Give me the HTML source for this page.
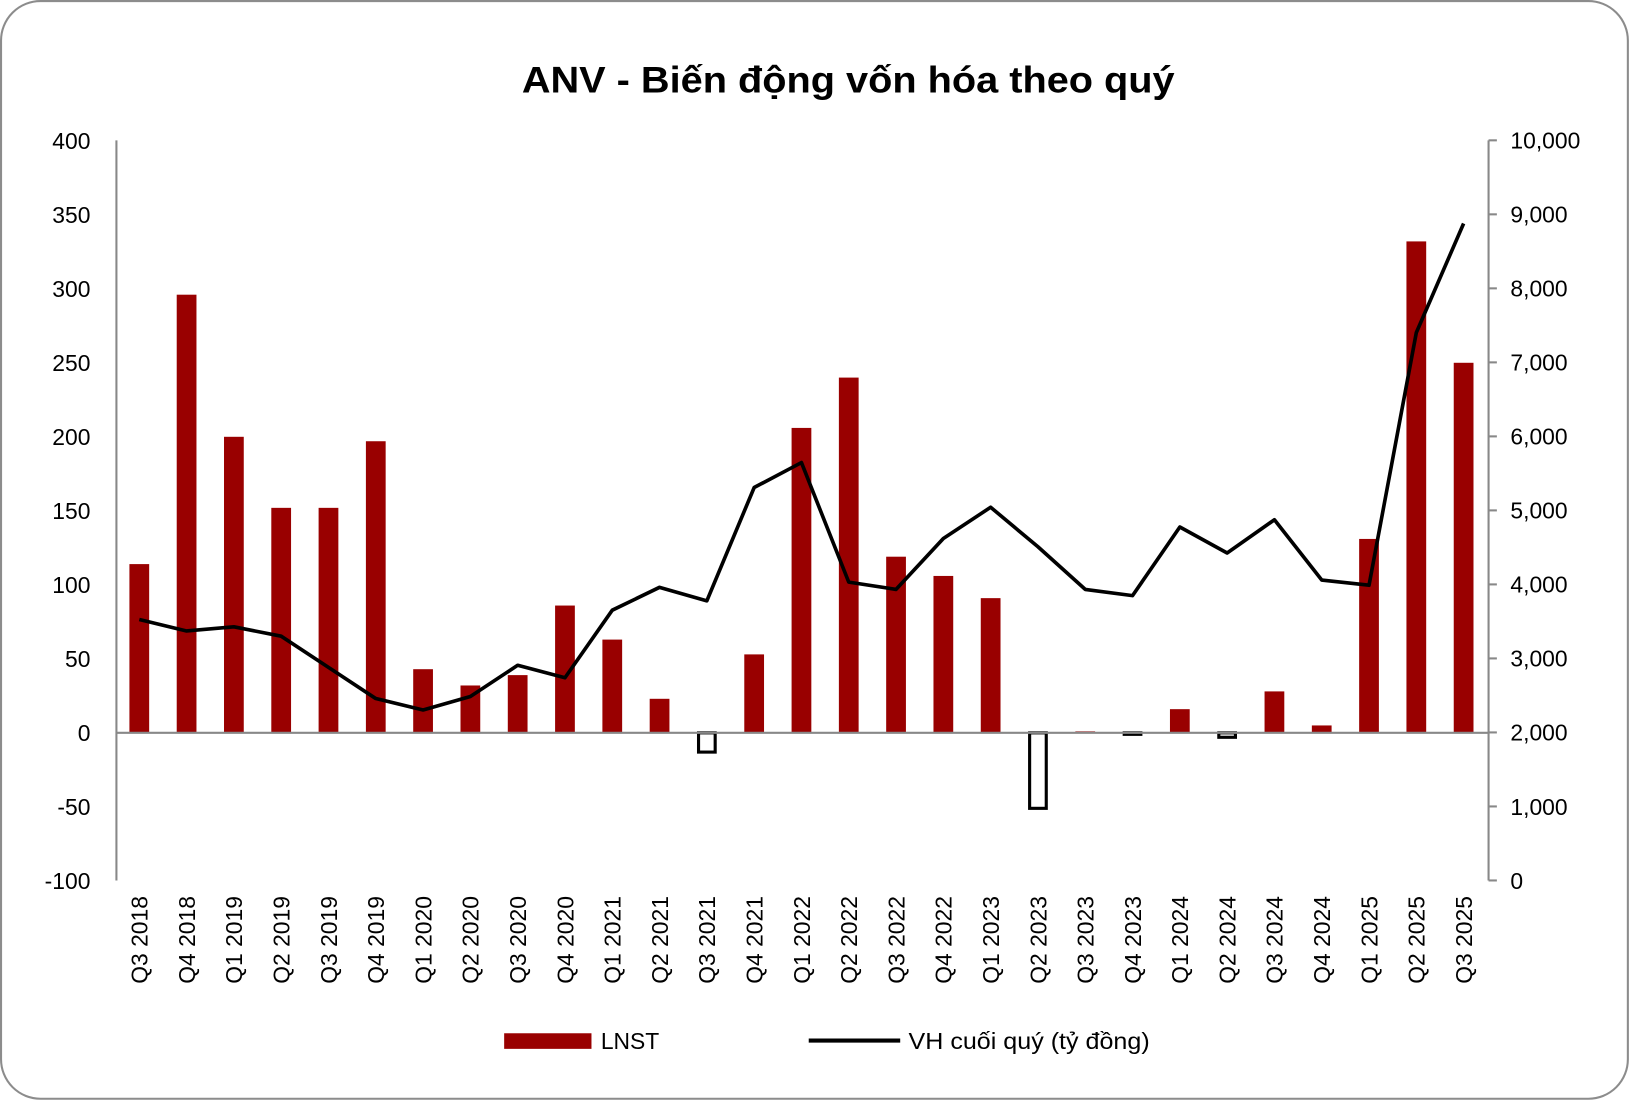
<!DOCTYPE html>
<html><head><meta charset="utf-8"><style>
html,body{margin:0;padding:0;background:#fff}
svg{display:block;font-family:"Liberation Sans",sans-serif}
</style></head><body>
<svg width="1630" height="1101" xmlns="http://www.w3.org/2000/svg">
<g id="c" transform="scale(1.0395)">
<rect x="1" y="1" width="1565" height="1056" rx="38" ry="38" fill="#fff" stroke="#8c8c8c" stroke-width="2"/>
<text x="816" y="89" text-anchor="middle" font-size="36" font-weight="bold" fill="#000" textLength="628" lengthAdjust="spacingAndGlyphs">ANV - Biến động vốn hóa theo quý</text>
</g>
</svg>
<script>
var s=document.getElementById('c'),NS='http://www.w3.org/2000/svg';
function el(t,a,txt){var e=document.createElementNS(NS,t);for(var k in a)e.setAttribute(k,a[k]);if(txt!=null)e.textContent=txt;s.appendChild(e);return e;}
var yTop=135,yBot=847,z=705,L=112,R=1432;
function yl(v){return z-v*(yBot-yTop)/500;}
function yr(v){return yBot-v*(yBot-yTop)/10000;}
for(var v=-100;v<=400;v+=50)el('text',{x:87,y:yl(v)+8,'text-anchor':'end','font-size':22,fill:'#000'},v);
for(var v=0;v<=10000;v+=1000){var y=yr(v);el('line',{x1:R,x2:R+8,y1:y,y2:y,stroke:'#888','stroke-width':2});
el('text',{x:1453,y:y+8,'font-size':22,fill:'#000'},v.toLocaleString('en-US'));}
el('line',{x1:L,x2:L,y1:yTop,y2:yBot,stroke:'#888','stroke-width':2});
el('line',{x1:R,x2:R,y1:yTop,y2:yBot,stroke:'#888','stroke-width':2});
var cats=['Q3 2018','Q4 2018'];
for(var yy=2019;yy<=2024;yy++)for(var q=1;q<=4;q++)cats.push('Q'+q+' '+yy);
cats.push('Q1 2025','Q2 2025','Q3 2025');
var bars=[114,296,200,152,152,197,43,32,39,86,63,23,-13,53,206,240,119,106,91,-51,1,-1,16,-3,28,5,131,332,250];
var line=[596,607,603,612,642,672,683,670,640,652,587,565,578,469,445,560,567,518,488,526,567,573,507,532,500,558,563,320,215];
var x0=134,dx=(1408-134)/28,bw=19;
for(var i=0;i<29;i++){var cx=x0+i*dx,v=bars[i];
 if(v>=0)el('rect',{x:cx-bw/2,y:yl(v),width:bw,height:z-yl(v),fill:'#990000'});
 else el('rect',{x:cx-bw/2+1.5,y:z,width:bw-3,height:yl(v)-z,fill:'#fff',stroke:'#000','stroke-width':3});
 el('text',{x:0,y:0,'font-size':22,fill:'#000','text-anchor':'end',transform:'translate('+(cx+8)+',862) rotate(-90)'},cats[i]);
}
el('line',{x1:L,x2:R,y1:z,y2:z,stroke:'#888','stroke-width':2});
var p='';for(var i=0;i<29;i++)p+=(i?'L':'M')+(x0+i*dx).toFixed(1)+' '+line[i];
el('path',{d:p,fill:'none',stroke:'#000','stroke-width':3.5,'stroke-linejoin':'round'});
el('rect',{x:485,y:994,width:84,height:15,fill:'#990000'});
el('text',{x:578,y:1009,'font-size':22,fill:'#000'},'LNST');
el('line',{x1:778,x2:866,y1:1001,y2:1001,stroke:'#000','stroke-width':4});
el('text',{x:874,y:1009,'font-size':22,fill:'#000',textLength:232,lengthAdjust:'spacingAndGlyphs'},'VH cuối quý (tỷ đồng)');
</script>
</body></html>
